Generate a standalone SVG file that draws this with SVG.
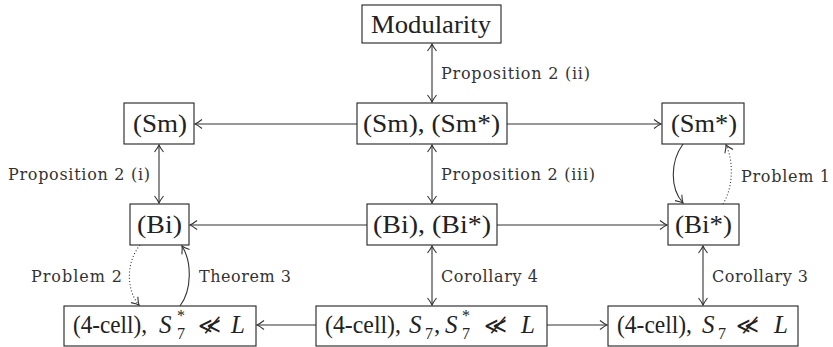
<svg xmlns="http://www.w3.org/2000/svg" width="833" height="347" viewBox="0 0 833 347">
<style>
.box{fill:#fff;stroke:#222;stroke-width:1.1}
.nt{font-family:"Liberation Serif",serif;font-size:25px;fill:#222}
.it{font-style:italic}
.sm{font-size:16px}
.rel{font-family:"DejaVu Sans",sans-serif;font-weight:200;font-size:22px}
.lb{font-family:"DejaVu Serif",serif;font-size:16px;fill:#333}
.ln{fill:none;stroke:#333;stroke-width:1.1}
.dot{stroke-dasharray:1 2.2}
</style>
<defs>
<marker id="ah" markerUnits="userSpaceOnUse" markerWidth="14" markerHeight="14" viewBox="-10 -7 14 14" refX="0" refY="0" orient="auto-start-reverse">
<path d="M-7,-4.5 Q-2.5,-1 0,0 Q-2.5,1 -7,4.5" fill="none" stroke="#333" stroke-width="1.1"/>
</marker>
</defs>
<g id="connectors">
<path class="ln" d="M357,124 H195" marker-end="url(#ah)"/>
<path class="ln" d="M507,124 H661" marker-end="url(#ah)"/>
<path class="ln" d="M367,225 H190" marker-end="url(#ah)"/>
<path class="ln" d="M497,225 H667" marker-end="url(#ah)"/>
<path class="ln" d="M316,325 H257" marker-end="url(#ah)"/>
<path class="ln" d="M547,325 H607" marker-end="url(#ah)"/>
<path class="ln" d="M432,44 V102" marker-start="url(#ah)" marker-end="url(#ah)"/>
<path class="ln" d="M432,145 V203" marker-start="url(#ah)" marker-end="url(#ah)"/>
<path class="ln" d="M432,246 V305" marker-start="url(#ah)" marker-end="url(#ah)"/>
<path class="ln" d="M159,145 V203" marker-start="url(#ah)" marker-end="url(#ah)"/>
<path class="ln" d="M703,246 V305" marker-start="url(#ah)" marker-end="url(#ah)"/>
<path class="ln" d="M683,144 C670,162 670,188 683,203" marker-end="url(#ah)"/>
<path class="ln dot" d="M723,204 C733,188 734,162 726,145" marker-end="url(#ah)"/>
<path class="ln dot" d="M140,245 C126,262 126,290 139,305" marker-end="url(#ah)"/>
<path class="ln" d="M180,306 C192,290 192,262 182,246" marker-end="url(#ah)"/>
<text class="lb" x="441" y="79" textLength="149" lengthAdjust="spacing">Proposition 2 (ii)</text>
<text class="lb" x="8" y="180" textLength="142" lengthAdjust="spacing">Proposition 2 (i)</text>
<text class="lb" x="441" y="180" textLength="154" lengthAdjust="spacing">Proposition 2 (iii)</text>
<text class="lb" x="741" y="182" textLength="89" lengthAdjust="spacing">Problem 1</text>
<text class="lb" x="31" y="282" textLength="91" lengthAdjust="spacing">Problem 2</text>
<text class="lb" x="199" y="282" textLength="92" lengthAdjust="spacing">Theorem 3</text>
<text class="lb" x="441" y="282" textLength="97" lengthAdjust="spacing">Corollary 4</text>
<text class="lb" x="712" y="282" textLength="96" lengthAdjust="spacing">Corollary 3</text>
</g>
<g id="modularity">
<rect class="box" x="362" y="5" width="139" height="38"/>
<text class="nt" x="371" y="33" textLength="120" lengthAdjust="spacingAndGlyphs">Modularity</text>
</g>
<g id="sm">
<rect class="box" x="124" y="103" width="70" height="41"/>
<text class="nt" x="133" y="132" textLength="54" lengthAdjust="spacingAndGlyphs">(Sm)</text>
</g>
<g id="sm-smstar">
<rect class="box" x="357" y="103" width="150" height="41"/>
<text class="nt" x="363" y="132" textLength="137" lengthAdjust="spacingAndGlyphs">(Sm), (Sm*)</text>
</g>
<g id="smstar">
<rect class="box" x="662" y="103" width="82" height="41"/>
<text class="nt" x="671" y="132" textLength="66" lengthAdjust="spacingAndGlyphs">(Sm*)</text>
</g>
<g id="bi">
<rect class="box" x="130" y="204" width="59" height="41"/>
<text class="nt" x="137" y="233" textLength="45" lengthAdjust="spacingAndGlyphs">(Bi)</text>
</g>
<g id="bi-bistar">
<rect class="box" x="367" y="204" width="130" height="41"/>
<text class="nt" x="373" y="233" textLength="118" lengthAdjust="spacingAndGlyphs">(Bi), (Bi*)</text>
</g>
<g id="bistar">
<rect class="box" x="668" y="204" width="71" height="41"/>
<text class="nt" x="675" y="233" textLength="57" lengthAdjust="spacingAndGlyphs">(Bi*)</text>
</g>
<g id="cell-left">
<rect class="box" x="64" y="306" width="192" height="40"/>
<text class="nt" y="333"><tspan x="73" textLength="74" lengthAdjust="spacingAndGlyphs">(4-cell),</tspan><tspan class="it" x="159">S</tspan><tspan class="sm" x="177" y="321">*</tspan><tspan class="sm" x="177" y="339">7</tspan><tspan class="rel" x="198" y="333">≪̸</tspan><tspan class="it" x="231" y="333">L</tspan></text>
</g>
<g id="cell-mid">
<rect class="box" x="316" y="306" width="231" height="40"/>
<text class="nt" y="333"><tspan x="325" textLength="76" lengthAdjust="spacingAndGlyphs">(4-cell),</tspan><tspan class="it" x="409">S</tspan><tspan class="sm" x="425" y="339">7</tspan><tspan x="434" y="333">,</tspan><tspan class="it" x="445">S</tspan><tspan class="sm" x="462" y="321">*</tspan><tspan class="sm" x="462" y="339">7</tspan><tspan class="rel" x="484" y="333">≪̸</tspan><tspan class="it" x="521" y="333">L</tspan></text>
</g>
<g id="cell-right">
<rect class="box" x="608" y="306" width="190" height="40"/>
<text class="nt" y="333"><tspan x="617" textLength="75" lengthAdjust="spacingAndGlyphs">(4-cell),</tspan><tspan class="it" x="702">S</tspan><tspan class="sm" x="718" y="339">7</tspan><tspan class="rel" x="736" y="333">≪̸</tspan><tspan class="it" x="774" y="333">L</tspan></text>
</g>
</svg>
